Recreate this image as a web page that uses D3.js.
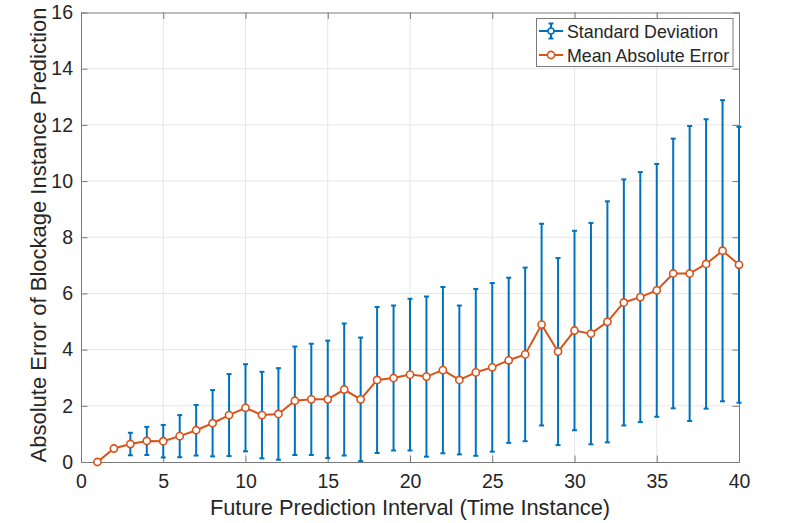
<!DOCTYPE html>
<html lang="en">
<head>
    <meta charset="UTF-8">
    <title>Blockage Instance Prediction Error</title>
    <script src="https://cdn.jsdelivr.net/npm/d3@7"></script>
    <style>
        body { margin: 0; background: #fff; }
        text { font-family: "Liberation Sans", Arial, Helvetica, sans-serif; fill: #262626; }
    </style>
</head>
<body>
<div id="container"></div>
<script>
    // Data
    const interval = [1, 2, 3, 4, 5, 6, 7, 8, 9, 10, 11, 12, 13, 14, 15, 16, 17, 18, 19, 20,
                      21, 22, 23, 24, 25, 26, 27, 28, 29, 30, 31, 32, 33, 34, 35, 36, 37, 38, 39, 40];
    const mae = [0, 0.48, 0.64, 0.75, 0.74, 0.92, 1.13, 1.38, 1.67, 1.93,
                 1.67, 1.71, 2.18, 2.23, 2.23, 2.58, 2.23, 2.92, 2.99, 3.11,
                 3.04, 3.27, 2.92, 3.19, 3.37, 3.62, 3.83, 4.89, 3.93, 4.68,
                 4.57, 4.99, 5.68, 5.87, 6.11, 6.71, 6.71, 7.05, 7.52, 7.02];
    const sd = [0, 0, 0.40, 0.50, 0.58, 0.75, 0.90, 1.18, 1.46, 1.55,
                1.54, 1.63, 1.93, 1.98, 2.09, 2.35, 2.20, 2.60, 2.58, 2.70,
                2.85, 2.96, 2.65, 2.97, 3.00, 2.94, 3.09, 3.59, 3.33, 3.55,
                3.94, 4.29, 4.38, 4.45, 4.50, 4.80, 5.25, 5.15, 5.36, 4.91];
    const xTicks = [0, 5, 10, 15, 20, 25, 30, 35, 40];
    const yTicks = [0, 2, 4, 6, 8, 10, 12, 14, 16];
    const legendLabels = ["Standard Deviation", "Mean Absolute Error"];

    const blue = "#0072BD";
    const orange = "#D95319";
    const axisColor = "#7a7a7a";

    const width = 789, height = 523;
    const plot = {left: 81, right: 739, top: 12.5, bottom: 462};

    const svg = d3.select("#container").append("svg")
        .attr("width", width)
        .attr("height", height);

    svg.append("rect").attr("width", width).attr("height", height).attr("fill", "#fff");

    const x = d3.scaleLinear().domain([0, 40]).range([plot.left, plot.right]);
    const y = d3.scaleLinear().domain([0, 16]).range([plot.bottom, plot.top]);

    // Grid
    const grid = svg.append("g").attr("stroke", "#e6e6e6").attr("stroke-width", 1);
    grid.selectAll(".gx").data(xTicks.slice(1, -1)).enter().append("line")
        .attr("x1", d => x(d)).attr("x2", d => x(d))
        .attr("y1", plot.top).attr("y2", plot.bottom);
    grid.selectAll(".gy").data(yTicks.slice(1, -1)).enter().append("line")
        .attr("x1", plot.left).attr("x2", plot.right)
        .attr("y1", d => y(d)).attr("y2", d => y(d));

    // Axes (ticks inside, box on all sides)
    const tickLen = 6.5;
    const fmt = d3.format("d");
    svg.append("g").attr("transform", `translate(0,${plot.bottom})`)
        .call(d3.axisBottom(x).tickValues(xTicks).tickFormat(fmt).tickSizeInner(-tickLen).tickSizeOuter(0).tickPadding(12));
    svg.append("g").attr("transform", `translate(0,${plot.top})`)
        .call(d3.axisTop(x).tickValues(xTicks).tickFormat("").tickSizeInner(-tickLen).tickSizeOuter(0));
    svg.append("g").attr("transform", `translate(${plot.left},0)`)
        .call(d3.axisLeft(y).tickValues(yTicks).tickFormat(fmt).tickSizeInner(-tickLen).tickSizeOuter(0).tickPadding(8));
    svg.append("g").attr("transform", `translate(${plot.right},0)`)
        .call(d3.axisRight(y).tickValues(yTicks).tickFormat("").tickSizeInner(-tickLen).tickSizeOuter(0));

    svg.selectAll(".domain, .tick line").attr("stroke", axisColor).attr("stroke-width", 1);
    svg.selectAll(".tick text").style("font-size", "19.5px").attr("fill", "#262626");

    // Error bars
    const points = interval.map((d, i) => ({x: d, m: mae[i], s: sd[i]}));
    const cap = 2.5;
    const bars = svg.append("g").attr("stroke", blue).attr("stroke-width", 2);
    const withSd = points.filter(p => p.s > 0);
    bars.selectAll(".v").data(withSd).enter().append("line")
        .attr("x1", p => x(p.x)).attr("x2", p => x(p.x))
        .attr("y1", p => y(p.m - p.s)).attr("y2", p => y(p.m + p.s));
    bars.selectAll(".ct").data(withSd).enter().append("line")
        .attr("x1", p => x(p.x) - cap).attr("x2", p => x(p.x) + cap)
        .attr("y1", p => y(p.m + p.s)).attr("y2", p => y(p.m + p.s));
    bars.selectAll(".cb").data(withSd).enter().append("line")
        .attr("x1", p => x(p.x) - cap).attr("x2", p => x(p.x) + cap)
        .attr("y1", p => y(p.m - p.s)).attr("y2", p => y(p.m - p.s));

    // MAE line with markers
    const line = d3.line().x(p => x(p.x)).y(p => y(p.m));
    svg.append("path").datum(points)
        .attr("d", line)
        .attr("fill", "none")
        .attr("stroke", orange)
        .attr("stroke-width", 2);
    svg.selectAll(".mk").data(points).enter().append("circle")
        .attr("cx", p => x(p.x)).attr("cy", p => y(p.m))
        .attr("r", 3.6)
        .attr("fill", "#fff")
        .attr("stroke", orange)
        .attr("stroke-width", 1.6);

    // Axis labels
    svg.append("text")
        .attr("x", (plot.left + plot.right) / 2).attr("y", 515)
        .attr("text-anchor", "middle")
        .style("font-size", "21.8px")
        .text("Future Prediction Interval (Time Instance)");
    svg.append("text")
        .attr("transform", "translate(46,235) rotate(-90)")
        .attr("text-anchor", "middle")
        .style("font-size", "22px")
        .text("Absolute Error of Blockage Instance Prediction");

    // Legend
    const lg = svg.append("g");
    lg.append("rect")
        .attr("x", 536.5).attr("y", 18.5).attr("width", 196.5).attr("height", 48)
        .attr("fill", "#fff").attr("stroke", axisColor).attr("stroke-width", 1);
    const rowY = [31, 55];
    // Standard deviation icon
    lg.append("line").attr("x1", 539).attr("x2", 563).attr("y1", rowY[0]).attr("y2", rowY[0])
        .attr("stroke", blue).attr("stroke-width", 2);
    lg.append("line").attr("x1", 551).attr("x2", 551).attr("y1", rowY[0] - 7.5).attr("y2", rowY[0] + 7.5)
        .attr("stroke", blue).attr("stroke-width", 2);
    [rowY[0] - 7.5, rowY[0] + 7.5].forEach(cy => {
        lg.append("line").attr("x1", 551 - cap).attr("x2", 551 + cap).attr("y1", cy).attr("y2", cy)
            .attr("stroke", blue).attr("stroke-width", 2);
    });
    lg.append("circle").attr("cx", 551).attr("cy", rowY[0]).attr("r", 3)
        .attr("fill", "#fff").attr("stroke", blue).attr("stroke-width", 1.5);
    // MAE icon
    lg.append("line").attr("x1", 539).attr("x2", 563).attr("y1", rowY[1]).attr("y2", rowY[1])
        .attr("stroke", orange).attr("stroke-width", 2);
    lg.append("circle").attr("cx", 551).attr("cy", rowY[1]).attr("r", 3.6)
        .attr("fill", "#fff").attr("stroke", orange).attr("stroke-width", 1.6);
    lg.selectAll(".lt").data(legendLabels).enter().append("text")
        .attr("x", 567).attr("y", (d, i) => rowY[i] + 7)
        .style("font-size", "17.8px")
        .text(d => d);
</script>
</body>
</html>
